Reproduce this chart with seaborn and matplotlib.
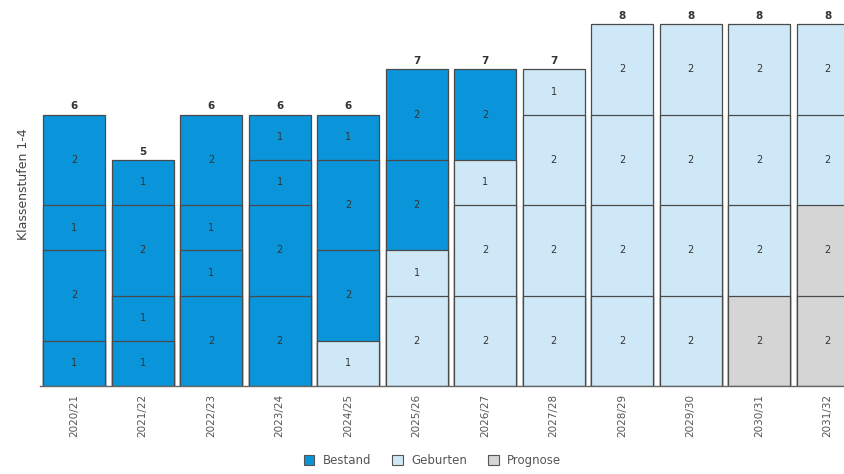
import matplotlib
matplotlib.use("Agg")
import matplotlib.pyplot as plt
from matplotlib.patches import Patch
import numpy as np
import pandas as pd
import seaborn as sns

# School years
years = ["2020/21", "2021/22", "2022/23", "2023/24", "2024/25", "2025/26",
         "2026/27", "2027/28", "2028/29", "2029/30", "2030/31", "2031/32"]

# Number of classes per grade level (Klassenstufe 1 at the bottom)
stufe1 = [1, 1, 2, 2, 1, 2, 2, 2, 2, 2, 2, 2]
stufe2 = [2, 1, 1, 2, 2, 1, 2, 2, 2, 2, 2, 2]
stufe3 = [1, 2, 1, 1, 2, 2, 1, 2, 2, 2, 2, 2]
stufe4 = [2, 1, 2, 1, 1, 2, 2, 1, 2, 2, 2, 2]

# Data source of each segment: B = Bestand, G = Geburten, P = Prognose
quelle1 = ["B", "B", "B", "B", "G", "G", "G", "G", "G", "G", "P", "P"]
quelle2 = ["B", "B", "B", "B", "B", "G", "G", "G", "G", "G", "G", "P"]
quelle3 = ["B", "B", "B", "B", "B", "B", "G", "G", "G", "G", "G", "G"]
quelle4 = ["B", "B", "B", "B", "B", "B", "B", "G", "G", "G", "G", "G"]

legend_names = {"B": "Bestand", "G": "Geburten", "P": "Prognose"}
colors = {"Bestand": "#0a95db", "Geburten": "#cfe8f7", "Prognose": "#d5d5d5"}

levels = [stufe1, stufe2, stufe3, stufe4]
sources = [quelle1, quelle2, quelle3, quelle4]
cums = np.cumsum(np.array(levels), axis=0)
totals = cums[-1]

sns.set_theme(style="white")
fig = plt.figure(figsize=(8.45, 4.74), dpi=100)
ax = fig.add_axes([40 / 845, 88 / 474, 822 / 845, 8.4 * 45.25 / 474])

# Stacked bars: draw cumulative heights from the top level down so each
# lower layer covers the one drawn before it.
for k in range(3, -1, -1):
    df = pd.DataFrame({
        "Jahr": years,
        "Hoehe": cums[k],
        "Quelle": [legend_names[s] for s in sources[k]],
    })
    sns.barplot(data=df, x="Jahr", y="Hoehe", hue="Quelle", order=years,
                hue_order=list(colors), palette=colors, dodge=False,
                width=0.9, edgecolor="#4a4a4a", linewidth=0.9, saturation=1,
                legend=False, ax=ax)

# Segment labels
for k in range(4):
    for i, v in enumerate(levels[k]):
        mid = cums[k][i] - v / 2
        ax.text(i, mid, str(v), ha="center", va="center", fontsize=7,
                color="#333333")

# Totals above the bars
for i, t in enumerate(totals):
    ax.text(i, t + 0.07, str(t), ha="center", va="bottom", fontsize=7.5,
            fontweight="bold", color="#333333")

ax.set_xlim(-0.5, 11.5)
ax.set_ylim(0, 8.4)
ax.set_yticks([])
ax.set_xlabel("")
ax.set_ylabel("Klassenstufen 1-4", fontsize=9, color="#444444")
ax.yaxis.set_label_coords(-0.012, 0.53)
ax.tick_params(axis="x", length=0, pad=6, labelsize=7.5, labelcolor="#555555")
plt.setp(ax.get_xticklabels(), rotation=90)
for side in ["top", "right", "left"]:
    ax.spines[side].set_visible(False)
ax.spines["bottom"].set_color("#666666")
ax.spines["bottom"].set_linewidth(1.0)

handles = [Patch(facecolor=c, edgecolor="#555555", linewidth=0.8, label=n)
           for n, c in colors.items()]
fig.legend(handles=handles, loc="lower center", bbox_to_anchor=(0.512, -0.008),
           ncol=3, frameon=False, fontsize=8.5, handlelength=0.9,
           handleheight=0.9, columnspacing=1.8, handletextpad=0.7,
           labelcolor="#555555")

fig.savefig("out.png", dpi=100)
